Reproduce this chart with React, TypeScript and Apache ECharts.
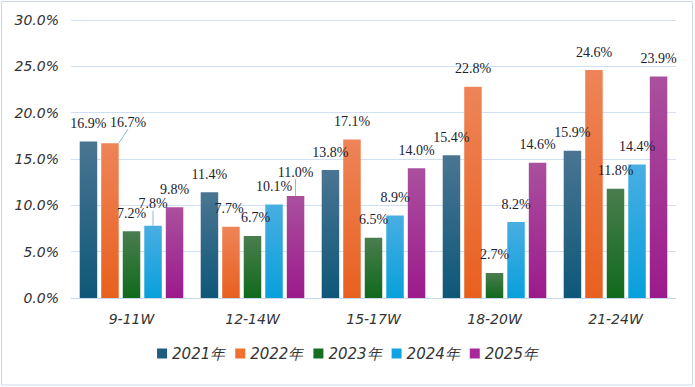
import React, { useEffect, useRef } from "react";
import * as echarts from "echarts";

const categories = ["9-11W", "12-14W", "15-17W", "18-20W", "21-24W"];
const seriesNames = ["2021年", "2022年", "2023年", "2024年", "2025年"];
const v2021 = [16.9, 11.4, 13.8, 15.4, 15.9];
const v2022 = [16.7, 7.7, 17.1, 22.8, 24.6];
const v2023 = [7.2, 6.7, 6.5, 2.7, 11.8];
const v2024 = [7.8, 10.1, 8.9, 8.2, 14.4];
const v2025 = [9.8, 11.0, 14.0, 14.6, 23.9];
const allValues = [v2021, v2022, v2023, v2024, v2025];

const topColors = ["#4a7592", "#ee8458", "#4a7d4e", "#48aee2", "#aa509e"];
const bottomColors = ["#0e5778", "#e8601e", "#106a1c", "#08a0dc", "#9c1a8c"];
const legendColors = ["#1d5d80", "#f07030", "#166e20", "#12a4e0", "#a8289c"];

// label adjustments [seriesIndex, dataIndex, dx, dy, showLine]
const labelAdjust: [number, number, number, number, boolean][] = [
  [1, 0, 18, -3, true],
  [3, 0, 0, -4, true],
  [4, 1, 0, -6, true],
  [1, 1, -2, 0, false],
  [2, 1, 3, 0, false],
];

export default function App() {
  const ref = useRef<HTMLDivElement>(null);
  useEffect(() => {
    document.body.style.margin = "0";
    const chart = echarts.init(ref.current!, undefined, { renderer: "svg" });
    const series = seriesNames.map((name, si) => ({
      name,
      type: "bar",
      barWidth: 17.5,
      barGap: "23%",
      itemStyle: {
        color: new echarts.graphic.LinearGradient(0, 0, 0, 1, [
          { offset: 0, color: topColors[si] },
          { offset: 1, color: bottomColors[si] },
        ]),
      },
      label: {
        show: true,
        position: "top",
        distance: 11,
        fontFamily: "Liberation Serif",
        fontSize: 14,
        color: "#1a2230",
        formatter: (p: any) => p.value.toFixed(1) + "%",
      },
      labelLine: { show: false },
      data: allValues[si].map((v, di) => {
        const adj = labelAdjust.find((a) => a[0] === si && a[1] === di);
        if (adj && adj[4]) {
          return {
            value: v,
            labelLine: { show: true, lineStyle: { color: "#8fb8e0", width: 1 } },
          };
        }
        return { value: v };
      }),
    }));
    chart.setOption({
      animation: false,
      backgroundColor: "#ffffff",
      grid: { left: 71, right: 19, top: 20, bottom: 89, containLabel: false },
      legend: {
        bottom: 21,
        left: "center",
        icon: "rect",
        itemWidth: 10,
        itemHeight: 10,
        itemGap: 10,
        textStyle: {
          fontFamily: "DejaVu Sans",
          fontStyle: "italic",
          fontSize: 15,
          color: "#333",
        },
        data: seriesNames.map((n, i) => ({ name: n, itemStyle: { color: legendColors[i] } })),
      },
      xAxis: {
        type: "category",
        data: categories,
        axisLine: { lineStyle: { color: "#c8d8ec" } },
        axisTick: { show: false },
        axisLabel: {
          margin: 14,
          fontFamily: "DejaVu Sans",
          fontStyle: "italic",
          fontSize: 14,
          color: "#333",
        },
      },
      yAxis: {
        type: "value",
        min: 0,
        max: 30,
        interval: 5,
        axisLine: { show: false },
        axisTick: { show: false },
        splitLine: { lineStyle: { color: "#d0e0f2" } },
        axisLabel: {
          margin: 12,
          fontFamily: "DejaVu Sans",
          fontStyle: "italic",
          fontSize: 14,
          color: "#333",
          formatter: (v: number) => v.toFixed(1) + "%",
        },
      },
      labelLayout: (p: any) => {
        const adj = labelAdjust.find((a) => a[0] === p.seriesIndex && a[1] === p.dataIndex);
        if (adj) return { dx: adj[2], dy: adj[3] };
        return {};
      },
      graphic: [
        {
          type: "rect",
          shape: { x: 1.5, y: 1.5, width: 691, height: 383.5 },
          style: { fill: "none", stroke: "#c9d9ec", lineWidth: 1 },
          silent: true,
        },
      ],
      series,
    });
    return () => chart.dispose();
  }, []);
  return <div ref={ref} style={{ width: 695, height: 387 }} />;
}
